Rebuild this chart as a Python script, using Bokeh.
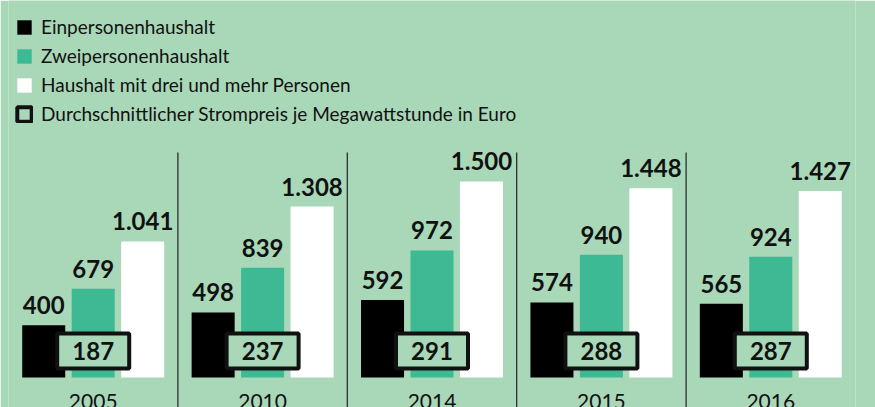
import re
from bokeh.plotting import figure
from bokeh.models import FactorRange, Range1d, ColumnDataSource, Legend, LegendItem
from bokeh.transform import dodge
from bokeh.core.properties import value
from bokeh.embed import file_html
from bokeh.resources import INLINE

# ---- data ----
years = ["2005", "2010", "2014", "2015", "2016"]
einpersonen = [400, 498, 592, 574, 565]
zweipersonen = [679, 839, 972, 940, 924]
drei_mehr = [1041, 1308, 1500, 1448, 1427]
strompreis = [187, 237, 291, 288, 287]

series_names = [
    "Einpersonenhaushalt",
    "Zweipersonenhaushalt",
    "Haushalt mit drei und mehr Personen",
    "Durchschnittlicher Strompreis je Megawattstunde in Euro",
]

BG = "#a9d8b9"
GREEN = "#3dba93"
INK = "#111111"
FONT = "Lato"


def de(v):
    return f"{v:,}".replace(",", ".")


src = ColumnDataSource(dict(
    year=years,
    ein=einpersonen, zwei=zweipersonen, drei=drei_mehr, preis=strompreis,
    ein_l=[de(v) for v in einpersonen],
    zwei_l=[de(v) for v in zweipersonen],
    drei_l=[de(v) for v in drei_mehr],
    preis_l=[de(v) for v in strompreis],
))
sep_src = ColumnDataSource(dict(year=years[1:]))

p = figure(
    width=875, height=407,
    x_range=FactorRange(factors=years, range_padding=0),
    y_range=Range1d(-230, 2885),
    output_backend="svg", toolbar_location=None,
    x_axis_location=None, y_axis_location=None,
    background_fill_color=BG, border_fill_color=BG,
    outline_line_color=None,
    min_border_left=8, min_border_top=0, min_border_bottom=0, min_border_right=20,
)
p.xgrid.visible = False
p.ygrid.visible = False

# separators between year groups
p.segment(x0=dodge("year", -0.5, range=p.x_range), x1=dodge("year", -0.5, range=p.x_range),
          y0=1722, y1=-400, source=sep_src, line_color="#222222", line_width=1.2)

W = 0.254
OFF = 0.292
r1 = p.vbar(x=dodge("year", -OFF, range=p.x_range), top="ein", width=W, source=src,
            fill_color="#000000", line_color=None)
r2 = p.vbar(x=dodge("year", 0, range=p.x_range), top="zwei", width=W, source=src,
            fill_color=GREEN, line_color=None)
r3 = p.vbar(x=dodge("year", OFF, range=p.x_range), top="drei", width=W, source=src,
            fill_color="#ffffff", line_color=None)

lbl = dict(text_font=value(FONT), text_font_style="bold", text_font_size="24px",
           text_color=INK, text_align="center", text_baseline="alphabetic", source=src)
p.text(x=dodge("year", -OFF, range=p.x_range), y="ein", text="ein_l", y_offset=-20, **lbl)
p.text(x=dodge("year", 0, range=p.x_range), y="zwei", text="zwei_l", y_offset=-20, **lbl)
p.text(x=dodge("year", OFF, range=p.x_range), y="drei", text="drei_l", y_offset=-20, **lbl)

# price boxes
r4 = p.rect(x="year", y=203, width=72, height=35, width_units="screen", height_units="screen",
            source=src, fill_color=BG, line_color=INK, line_width=4)
p.text(x="year", y=203, text="preis_l", text_font=value(FONT), text_font_style="bold",
       text_font_size="24px", text_color=INK, text_align="center", text_baseline="middle",
       source=src)

# year labels
p.text(x="year", y=0, text="year", y_offset=24, text_font=value(FONT), text_font_size="21px",
       text_color=INK, text_align="center", text_baseline="alphabetic", source=src)

legend = Legend(
    items=[LegendItem(label=series_names[0], renderers=[r1]),
           LegendItem(label=series_names[1], renderers=[r2]),
           LegendItem(label=series_names[2], renderers=[r3]),
           LegendItem(label=series_names[3], renderers=[r4])],
    location=(7, 282),
    glyph_width=18, glyph_height=18, label_standoff=8,
    label_height=20, spacing=6, padding=0, margin=0,
    label_text_font=FONT, label_text_font_size="19px", label_text_color=INK,
    background_fill_alpha=0, border_line_alpha=0,
)
p.add_layout(legend, "center")

html = file_html(p, INLINE)
html = re.sub(r"<body([^>]*)>", lambda m: f'<body{m.group(1)} style="background-color:{BG};">', html, count=1)
open("out.html", "w").write(html)
